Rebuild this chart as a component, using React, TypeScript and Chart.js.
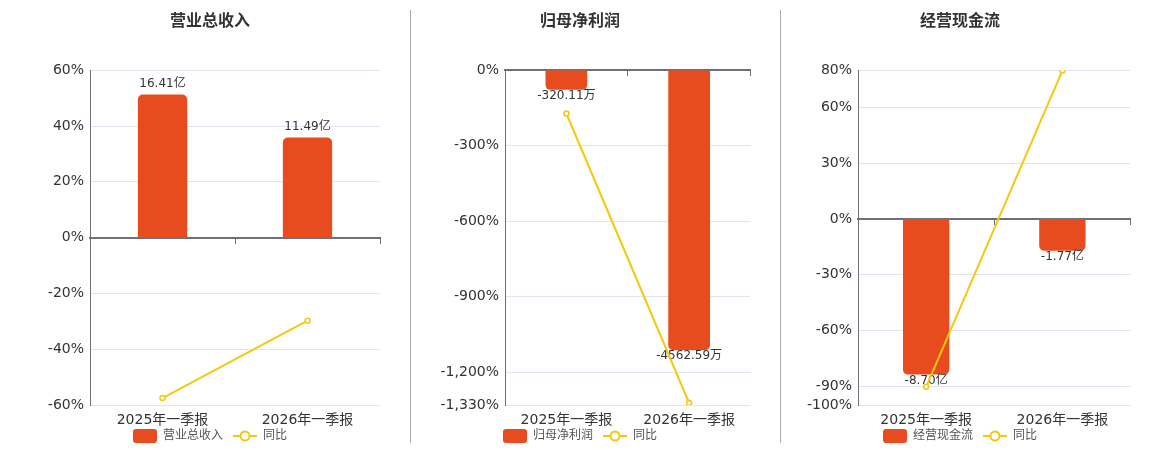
import { useEffect, useRef } from "react"
import { Chart, registerables } from "chart.js"

Chart.register(...registerables)

const FONT = '"DejaVu Sans", "Noto Sans CJK SC", sans-serif'
const BAR_COLOR = "#e84c1e"
const LINE_COLOR = "#f5c810"
const AXIS_COLOR = "#6e7079"
const GRID_COLOR = "#e0e6f1"

// 数据
const categories = ["2025年一季报", "2026年一季报"]

const revenueValues = [16.41, 11.49] // 亿
const revenueYoy = [-57.5, -29.8]
const revenueTicks = [60, 40, 20, 0, -20, -40, -60]

const profitValues = [-320.11, -4562.59] // 万
const profitYoy = [-172, -1322]
const profitTicks = [0, -300, -600, -900, -1200, -1330]

const cashValues = [-8.7, -1.77] // 亿
const cashYoy = [-90.2, 79.8]
const cashTicks = [80, 60, 30, 0, -30, -60, -90, -100]

function makeBarIcon() {
  const c = document.createElement("canvas")
  c.width = 24
  c.height = 14
  const ctx = c.getContext("2d")!
  ctx.fillStyle = BAR_COLOR
  ctx.beginPath()
  ctx.roundRect(0, 0, 24, 14, 3)
  ctx.fill()
  return c
}

function makeLineIcon() {
  const c = document.createElement("canvas")
  c.width = 24
  c.height = 14
  const ctx = c.getContext("2d")!
  ctx.strokeStyle = LINE_COLOR
  ctx.lineWidth = 2
  ctx.beginPath()
  ctx.moveTo(0, 7)
  ctx.lineTo(24, 7)
  ctx.stroke()
  ctx.beginPath()
  ctx.arc(12, 7, 4.5, 0, Math.PI * 2)
  ctx.fillStyle = "#fff"
  ctx.fill()
  ctx.stroke()
  return c
}

type PanelProps = {
  left: number
  width: number
  pad: number
  axisWidth: number
  title: string
  unit: string
  barPerPct: number
  values: number[]
  yoy: number[]
  ticks: number[]
}

function Panel(props: PanelProps) {
  const chartRef = useRef<HTMLCanvasElement>(null)
  const chartInstance = useRef<Chart | null>(null)

  useEffect(() => {
    if (!chartRef.current) return
    if (chartInstance.current) chartInstance.current.destroy()
    const ctx = chartRef.current.getContext("2d")
    if (!ctx) return

    const { values, yoy, ticks, unit, barPerPct } = props
    const pctMax = Math.max(...ticks)
    const pctMin = Math.min(...ticks)
    const barIcon = makeBarIcon()
    const lineIcon = makeLineIcon()

    // 柱子上的数值标签
    const barLabels = {
      id: "barLabels",
      afterDatasetDraw(chart: any, args: any) {
        if (args.index !== 0) return
        const c = chart.ctx
        c.save()
        c.font = `12px ${FONT}`
        c.fillStyle = "#333"
        c.textAlign = "center"
        c.textBaseline = "middle"
        args.meta.data.forEach((bar: any, i: number) => {
          const v = values[i]
          const y = v >= 0 ? bar.y - 11 : bar.y + 6
          c.fillText(`${v.toFixed(2)}${unit}`, bar.x, y)
        })
        c.restore()
      },
    }

    chartInstance.current = new Chart(ctx, {
      type: "bar",
      data: {
        labels: categories,
        datasets: [
          {
            type: "bar",
            label: props.title,
            data: values,
            yAxisID: "y1",
            backgroundColor: BAR_COLOR,
            borderRadius: 5,
            barPercentage: 0.34,
            categoryPercentage: 1,
            order: 1,
          },
          {
            type: "line",
            label: "同比",
            data: yoy,
            yAxisID: "y",
            borderColor: LINE_COLOR,
            borderWidth: 2,
            pointRadius: 2.5,
            pointBorderWidth: 1.5,
            pointBackgroundColor: "#fff",
            pointBorderColor: LINE_COLOR,
            tension: 0,
            order: 0,
          } as any,
        ],
      },
      options: {
        responsive: false,
        animation: false,
        layout: { padding: { left: props.pad, right: props.pad, top: 0, bottom: 0 } },
        plugins: {
          title: {
            display: true,
            text: props.title,
            color: "#333",
            font: { family: FONT, size: 16, weight: "bold" },
            padding: { top: 12, bottom: 39 },
          },
          legend: {
            position: "bottom",
            labels: {
              usePointStyle: true,
              pointStyleWidth: 24,
              padding: 10,
              color: "#555",
              font: { family: FONT, size: 12 },
              generateLabels: (chart) => {
                const items = Chart.defaults.plugins.legend.labels.generateLabels(chart)
                items.sort((a, b) => (a.datasetIndex ?? 0) - (b.datasetIndex ?? 0))
                return items.map((item) => ({
                  ...item,
                  pointStyle: item.datasetIndex === 0 ? barIcon : lineIcon,
                }))
              },
            },
          },
          tooltip: { enabled: false },
        },
        scales: {
          x: {
            grid: { display: false, drawTicks: false },
            border: { display: false },
            ticks: { display: false },
            afterFit: (scale) => {
              scale.height = 15
            },
          },
          // 类目标签，贴在绘图区底部
          xLabels: {
            type: "category",
            axis: "x",
            position: { y: pctMin },
            offset: true,
            grid: { display: false, drawTicks: false },
            border: { display: false },
            ticks: { color: "#333", padding: 7, font: { family: FONT, size: 14 } },
          },
          // 零轴
          x2: {
            type: "category",
            axis: "x",
            position: { y: 0 },
            offset: true,
            grid: { offset: true, drawOnChartArea: false, drawTicks: true, tickLength: 5, color: AXIS_COLOR },
            border: { display: true, color: AXIS_COLOR, width: 2 },
            ticks: { display: false },
          },
          y: {
            min: pctMin,
            max: pctMax,
            afterBuildTicks: (scale) => {
              scale.ticks = ticks.map((v) => ({ value: v }))
            },
            afterFit: (scale) => {
              scale.width = props.axisWidth
            },
            grid: { color: GRID_COLOR, drawTicks: false },
            border: { display: true, color: AXIS_COLOR, width: 1 },
            ticks: {
              color: "#333",
              padding: 6,
              font: { family: FONT, size: 14 },
              callback: (value) => Number(value).toLocaleString("en-US") + "%",
            },
          },
          y1: {
            display: false,
            min: pctMin * barPerPct,
            max: pctMax * barPerPct,
          },
        },
      } as any,
      plugins: [barLabels],
    })

    return () => {
      if (chartInstance.current) {
        chartInstance.current.destroy()
        chartInstance.current = null
      }
    }
  }, [])

  return (
    <canvas
      ref={chartRef}
      width={props.width}
      height={452}
      style={{ position: "absolute", left: props.left, top: 0, width: props.width, height: 452 }}
    />
  )
}

export default function App() {
  return (
    <div
      style={{
        position: "absolute",
        left: 0,
        top: 0,
        width: 1160,
        height: 450,
        overflow: "hidden",
        background: "#fff",
      }}
    >
      <Panel left={20} width={380} pad={20} axisWidth={50} title="营业总收入" unit="亿"
        barPerPct={0.32} values={revenueValues} yoy={revenueYoy} ticks={revenueTicks} />
      <Panel left={404} width={352} pad={0} axisWidth={101} title="归母净利润" unit="万"
        barPerPct={4.1} values={profitValues} yoy={profitYoy} ticks={profitTicks} />
      <Panel left={784} width={352} pad={0} axisWidth={74} title="经营现金流" unit="亿"
        barPerPct={0.104} values={cashValues} yoy={cashYoy} ticks={cashTicks} />
      <div style={{ position: "absolute", left: 410, top: 10, width: 1, height: 433, background: "#aaa" }} />
      <div style={{ position: "absolute", left: 780, top: 10, width: 1, height: 433, background: "#aaa" }} />
    </div>
  )
}
